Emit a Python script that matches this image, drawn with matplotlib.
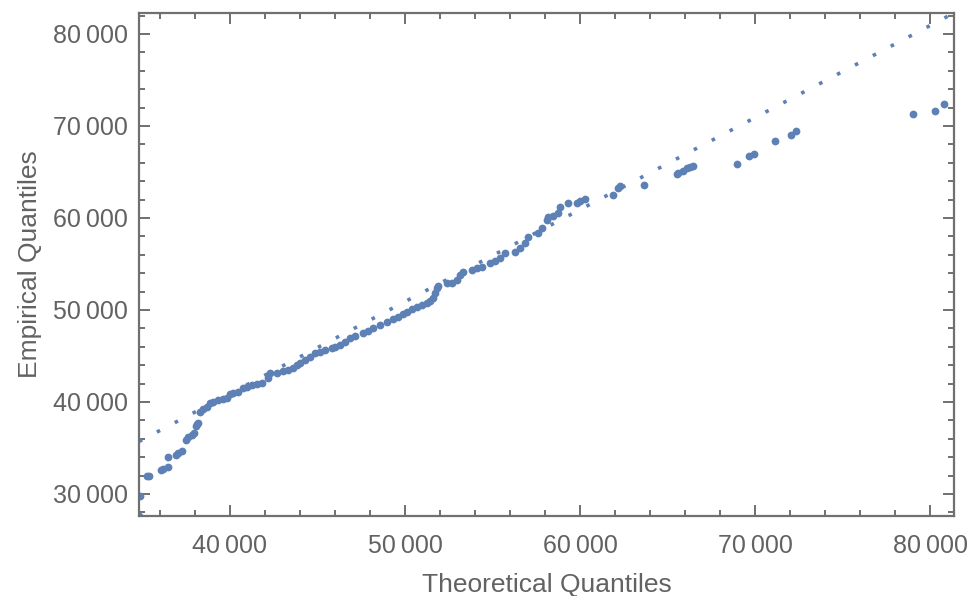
import matplotlib.pyplot as plt
from matplotlib.ticker import MultipleLocator, FuncFormatter

# Sorted quantile pairs (theoretical, empirical)
theoretical = [34800, 34860, 35260, 35370, 36060, 36170, 36440, 36470, 36910, 37030,
               37260, 37470, 37600, 37810, 37940, 38040, 38100, 38170, 38290, 38460,
               38670, 38860, 39030, 39330, 39620, 39810, 40000, 40190, 40470, 40760,
               40950, 41240, 41530, 41810, 42190, 42290, 42670, 43050, 43330, 43620,
               43810, 44000, 44290, 44570, 44860, 45140, 45430, 45810, 46000, 46290,
               46570, 46860, 47140, 47620, 47900, 48190, 48570, 48950, 49330, 49620,
               49900, 50100, 50380, 50670, 50950, 51240, 51430, 51620, 51710, 51810,
               51900, 52380, 52670, 52950, 53140, 53330, 53810, 54100, 54380, 54860,
               55140, 55430, 55710, 56290, 56570, 56860, 57010, 57620, 57810, 58100,
               58190, 58470, 58760, 58860, 59330, 59810, 60000, 60290, 61900, 62190,
               62290, 63660, 65560, 65620, 65900, 66100, 66280, 66440, 68950, 69670,
               69940, 71140, 72040, 72340, 79010, 80290, 80800]
empirical = [27650, 29780, 31950, 31960, 32550, 32720, 32970, 33990, 34240, 34450,
             34670, 35870, 36190, 36410, 36630, 37390, 37610, 37750, 38940, 39200,
             39490, 39860, 40000, 40220, 40290, 40400, 40870, 41010, 41120, 41490,
             41660, 41850, 41960, 42030, 42570, 43120, 43180, 43400, 43480, 43660,
             44020, 44270, 44560, 44920, 45290, 45470, 45650, 45830, 46010, 46190,
             46550, 46920, 47170, 47470, 47750, 48010, 48370, 48730, 48990, 49270,
             49560, 49810, 50080, 50290, 50510, 50730, 51010, 51270, 51810, 52360,
             52640, 52900, 52970, 53260, 53800, 54160, 54350, 54530, 54710, 55140,
             55360, 55620, 56160, 56340, 56710, 57250, 57900, 58340, 58880, 59780,
             60080, 60220, 60510, 61160, 61600, 61670, 61880, 62030, 62500, 63230,
             63480, 63590, 64780, 64860, 65140, 65400, 65580, 65650, 65870, 66740,
             66960, 68400, 69020, 69490, 71300, 71660, 72390]

# reference line end points
ref_x = [34800, 81370]
ref_y = [35700, 82280]

blue = "#5e81b5"
frame = "#707070"
txt = "#626262"
fam = ["Liberation Sans", "DejaVu Sans"]

fig = plt.figure(figsize=(9.67, 5.96), dpi=100)
ax = fig.add_axes([0.1437, 0.1342, 0.8429, 0.844])

ax.plot(ref_x, ref_y, color=blue, lw=2.6, linestyle=(0, (1.0, 4.6)))
ax.plot(theoretical, empirical, "o", color=blue, ms=5.6, mec="none")

ax.set_xlim(34800, 81370)
ax.set_ylim(27600, 82280)

ax.xaxis.set_major_locator(MultipleLocator(10000))
ax.xaxis.set_minor_locator(MultipleLocator(2000))
ax.yaxis.set_major_locator(MultipleLocator(10000))
ax.yaxis.set_minor_locator(MultipleLocator(2000))

fmt = FuncFormatter(lambda v, p: f"{int(v) // 1000}\u2009000")
ax.xaxis.set_major_formatter(fmt)
ax.yaxis.set_major_formatter(fmt)

for s in ax.spines.values():
    s.set_color(frame)
    s.set_linewidth(1.6)

ax.tick_params(which="both", direction="in", top=True, right=True, color=frame, width=1.4)
ax.tick_params(which="major", length=8)
ax.tick_params(which="minor", length=4)
ax.tick_params(axis="x", which="major", pad=13, labelsize=18, labelcolor=txt)
ax.tick_params(axis="y", which="major", pad=8, labelsize=18, labelcolor=txt)
for lab in ax.get_xticklabels() + ax.get_yticklabels():
    lab.set_family(fam)

ax.set_xlabel("Theoretical Quantiles", fontsize=19, color=txt, family=fam, labelpad=11)
ax.set_ylabel("Empirical Quantiles", fontsize=19, color=txt, family=fam, labelpad=8)

fig.savefig("out.png", dpi=100)
